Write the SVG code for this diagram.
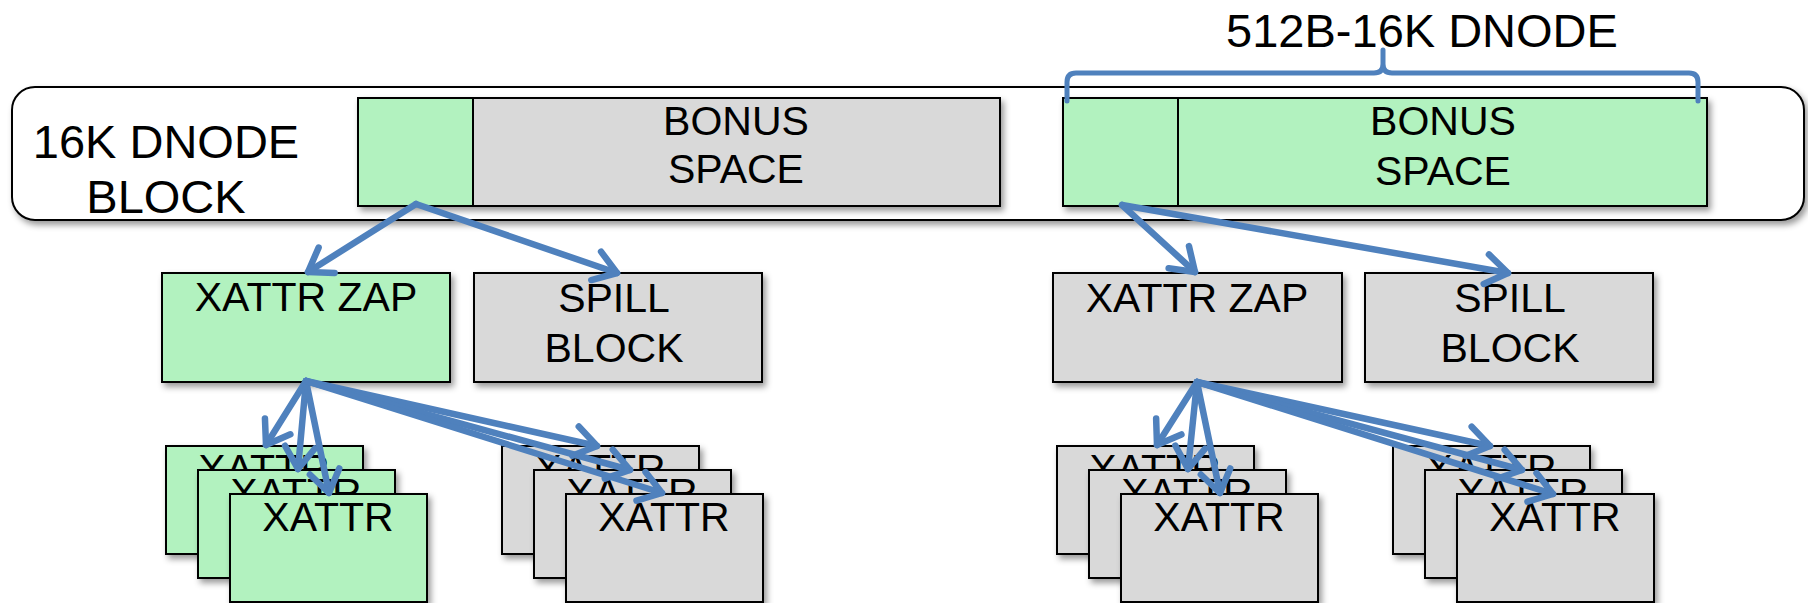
<svg xmlns="http://www.w3.org/2000/svg" width="1808" height="603" viewBox="0 0 1808 603">
<style>
  text { font-family: "Liberation Sans", Arial, sans-serif; fill: #000; text-anchor: middle; }
  .big { font-size: 47px; }
  .lbl { font-size: 41px; }
  .green { fill: #b2f2bf; stroke: #000; stroke-width: 2; }
  .gray { fill: #d9d9d9; stroke: #000; stroke-width: 2; }
  .outer { fill: #fff; stroke: #000; stroke-width: 2; }
  .arrow { fill: none; stroke: #4f81bd; stroke-width: 6.5; stroke-linecap: round; marker-end: url(#ah); }
  .brace { fill: none; stroke: #4f81bd; stroke-width: 5; stroke-linecap: round; stroke-linejoin: round; }
</style>
<defs>
  <filter id="sh" x="-10%" y="-10%" width="130%" height="140%">
    <feDropShadow dx="3" dy="4" stdDeviation="3" flood-color="#000" flood-opacity="0.4"/>
  </filter>
  <marker id="ah" markerUnits="userSpaceOnUse" viewBox="-32 -22 44 44" refX="0" refY="0" markerWidth="44" markerHeight="44" orient="auto">
    <path d="M-22,-15 L0,0 L-22,15" fill="none" stroke="#4f81bd" stroke-width="6.5" stroke-linecap="round" stroke-linejoin="round"/>
  </marker>
</defs>

<g id="dnode-block" filter="url(#sh)">
  <rect class="outer" x="12" y="87" width="1792" height="133" rx="23" ry="23"/>
</g>
<g id="dnode-block-label">
  <text class="big" x="166" y="158">16K DNODE</text>
  <text class="big" x="166" y="213">BLOCK</text>
</g>

<g id="left-dnode" filter="url(#sh)">
  <rect class="green" x="358" y="98" width="115" height="108"/>
  <rect class="gray" x="473" y="98" width="527" height="108"/>
</g>
<g id="left-bonus-text">
  <text class="lbl" x="736" y="135">BONUS</text>
  <text class="lbl" x="736" y="183">SPACE</text>
</g>

<g id="right-dnode" filter="url(#sh)">
  <rect class="green" x="1063" y="98" width="115" height="108"/>
  <rect class="green" x="1178" y="98" width="529" height="108"/>
</g>
<g id="right-bonus-text">
  <text class="lbl" x="1443" y="135">BONUS</text>
  <text class="lbl" x="1443" y="185">SPACE</text>
</g>

<g id="brace-label">
  <path class="brace" d="M1067,101 V82 Q1067,73 1076,73 H1374 Q1383,73 1383,64 V50 M1383,50 V64 Q1383,73 1392,73 H1689 Q1698,73 1698,82 V101"/>
  <text class="big" x="1422" y="47">512B-16K DNODE</text>
</g>

<g id="left-zap" filter="url(#sh)">
  <rect class="green" x="162" y="273" width="288" height="109"/>
</g>
<text class="lbl" x="306" y="311">XATTR ZAP</text>
<g id="left-spill" filter="url(#sh)">
  <rect class="gray" x="474" y="273" width="288" height="109"/>
</g>
<text class="lbl" x="614" y="312">SPILL</text>
<text class="lbl" x="614" y="362">BLOCK</text>

<g id="right-zap" filter="url(#sh)">
  <rect class="gray" x="1053" y="273" width="289" height="109"/>
</g>
<text class="lbl" x="1197" y="312">XATTR ZAP</text>
<g id="right-spill" filter="url(#sh)">
  <rect class="gray" x="1365" y="273" width="288" height="109"/>
</g>
<text class="lbl" x="1510" y="312">SPILL</text>
<text class="lbl" x="1510" y="362">BLOCK</text>

<g id="left-zap-xattrs">
  <g filter="url(#sh)"><rect class="green" x="166" y="446" width="197" height="108"/></g>
  <text class="lbl" x="264" y="483">XATTR</text>
  <g filter="url(#sh)"><rect class="green" x="198" y="470" width="197" height="108"/></g>
  <text class="lbl" x="296" y="507">XATTR</text>
  <g filter="url(#sh)"><rect class="green" x="230" y="494" width="197" height="108"/></g>
  <text class="lbl" x="328" y="531">XATTR</text>
</g>

<g id="left-spill-xattrs">
  <g filter="url(#sh)"><rect class="gray" x="502" y="446" width="197" height="108"/></g>
  <text class="lbl" x="600" y="483">XATTR</text>
  <g filter="url(#sh)"><rect class="gray" x="534" y="470" width="197" height="108"/></g>
  <text class="lbl" x="632" y="507">XATTR</text>
  <g filter="url(#sh)"><rect class="gray" x="566" y="494" width="197" height="108"/></g>
  <text class="lbl" x="664" y="531">XATTR</text>
</g>

<g id="right-zap-xattrs">
  <g filter="url(#sh)"><rect class="gray" x="1057" y="446" width="197" height="108"/></g>
  <text class="lbl" x="1155" y="483">XATTR</text>
  <g filter="url(#sh)"><rect class="gray" x="1089" y="470" width="197" height="108"/></g>
  <text class="lbl" x="1187" y="507">XATTR</text>
  <g filter="url(#sh)"><rect class="gray" x="1121" y="494" width="197" height="108"/></g>
  <text class="lbl" x="1219" y="531">XATTR</text>
</g>

<g id="right-spill-xattrs">
  <g filter="url(#sh)"><rect class="gray" x="1393" y="446" width="197" height="108"/></g>
  <text class="lbl" x="1491" y="483">XATTR</text>
  <g filter="url(#sh)"><rect class="gray" x="1425" y="470" width="197" height="108"/></g>
  <text class="lbl" x="1523" y="507">XATTR</text>
  <g filter="url(#sh)"><rect class="gray" x="1457" y="494" width="197" height="108"/></g>
  <text class="lbl" x="1555" y="531">XATTR</text>
</g>

<g id="connectors">
  <line class="arrow" x1="416" y1="204" x2="308" y2="272"/>
  <line class="arrow" x1="416" y1="204" x2="617" y2="273"/>
  <line class="arrow" x1="1122" y1="205" x2="1195" y2="272"/>
  <line class="arrow" x1="1122" y1="205" x2="1508" y2="273"/>

  <line class="arrow" x1="306" y1="381" x2="266" y2="445"/>
  <line class="arrow" x1="306" y1="381" x2="298" y2="469"/>
  <line class="arrow" x1="306" y1="381" x2="329" y2="493"/>
  <line class="arrow" x1="306" y1="381" x2="597" y2="446"/>
  <line class="arrow" x1="306" y1="381" x2="630" y2="470"/>
  <line class="arrow" x1="306" y1="381" x2="662" y2="493"/>

  <line class="arrow" x1="1197" y1="382" x2="1157" y2="445"/>
  <line class="arrow" x1="1197" y1="382" x2="1188" y2="469"/>
  <line class="arrow" x1="1197" y1="382" x2="1220" y2="493"/>
  <line class="arrow" x1="1197" y1="382" x2="1490" y2="446"/>
  <line class="arrow" x1="1197" y1="382" x2="1522" y2="470"/>
  <line class="arrow" x1="1197" y1="382" x2="1553" y2="494"/>
</g>
</svg>
